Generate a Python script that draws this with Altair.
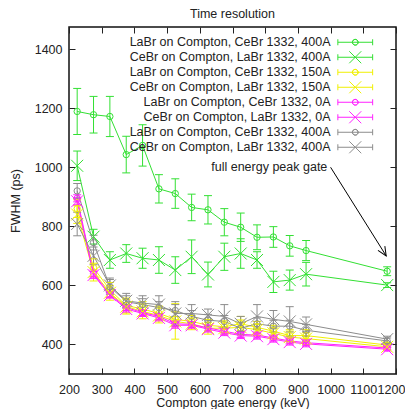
import json
import math
import altair as alt
import pandas as pd

FONT = "Liberation Sans"
TXT = "#222222"

energy = [225, 275, 325, 375, 425, 475, 525, 575, 625, 675, 725, 775, 825, 875, 925, 1173]

labels = [
    "LaBr on Compton, CeBr 1332, 400A",
    "CeBr on Compton, LaBr 1332, 400A",
    "LaBr on Compton, CeBr 1332, 150A",
    "CeBr on Compton, LaBr 1332, 150A",
    "LaBr on Compton, CeBr 1332, 0A",
    "CeBr on Compton, LaBr 1332, 0A",
    "LaBr on Compton, CeBr 1332, 400A",
    "CeBr on Compton, LaBr 1332, 400A",
]
keys = ["s0", "s1", "s2", "s3", "s4", "s5", "s6", "s7"]
colors = ["#33e033", "#33e033", "#f0f000", "#f0f000", "#ff22ff", "#ff22ff", "#8c8c8c", "#8c8c8c"]
markers = ["o", "x", "o", "x", "o", "x", "o", "x"]

labr_400_green = [1189, 1178, 1172, 1043, 1074, 927, 911, 864, 856, 814, 797, 763, 764, 734, 718, 648]
labr_400_green_err = [78, 62, 68, 62, 70, 48, 50, 45, 48, 46, 48, 42, 35, 35, 34, 15]
cebr_400_green = [1005, 765, 686, 708, 692, 686, 652, 697, 637, 697, 708, 686, 612, 618, 638, 601]
cebr_400_green_err = [50, 25, 28, 30, 34, 45, 45, 57, 42, 46, 50, 28, 36, 34, 40, 8]
labr_150 = [860, 660, 585, 532, 520, 505, 485, 478, 465, 460, 470, 458, 445, 430, 430, 398]
labr_150_err = [30, 30, 25, 25, 25, 25, 25, 20, 20, 20, 25, 20, 20, 20, 20, 8]
cebr_150 = [840, 645, 575, 528, 512, 498, 478, 470, 455, 455, 458, 450, 438, 425, 420, 392]
cebr_150_err = [30, 30, 25, 25, 25, 25, 60, 20, 20, 20, 25, 20, 20, 20, 20, 8]
labr_0 = [895, 640, 570, 525, 508, 495, 470, 468, 456, 445, 434, 432, 422, 412, 406, 388]
labr_0_err = [12, 12, 10, 10, 10, 10, 10, 10, 10, 10, 10, 10, 10, 10, 10, 6]
cebr_0 = [885, 635, 567, 520, 505, 490, 465, 465, 452, 440, 430, 428, 418, 408, 402, 384]
cebr_0_err = [12, 12, 10, 10, 10, 10, 10, 10, 10, 10, 10, 10, 10, 10, 10, 6]
labr_400_gray = [920, 745, 595, 545, 535, 525, 515, 495, 482, 478, 455, 470, 462, 462, 448, 412]
labr_400_gray_err = [25, 25, 25, 20, 20, 20, 20, 20, 20, 20, 20, 20, 20, 20, 20, 10]
cebr_400_gray = [808, 700, 600, 548, 540, 535, 505, 505, 500, 495, 470, 495, 485, 478, 468, 418]
cebr_400_gray_err = [40, 30, 25, 25, 25, 30, 40, 30, 20, 40, 25, 40, 30, 50, 25, 10]

series_vals = [labr_400_green, cebr_400_green, labr_150, cebr_150, labr_0, cebr_0, labr_400_gray, cebr_400_gray]
series_errs = [labr_400_green_err, cebr_400_green_err, labr_150_err, cebr_150_err, labr_0_err, cebr_0_err,
               labr_400_gray_err, cebr_400_gray_err]

arrow_x = [1000, 1170]
arrow_y = [1000, 700]
note_x = [990]
note_y = [1000]
note_text = ["full energy peak gate"]

x_ticks = [200, 300, 400, 500, 600, 700, 800, 900, 1000, 1100, 1200]
y_ticks = [400, 600, 800, 1000, 1200, 1400]
x_domain = [200, 1200]
y_domain = [300, 1475]

W, H = 327, 347

rows = []
for k, vals, errs, m in zip(keys, series_vals, series_errs, markers):
    for e, v, d in zip(energy, vals, errs):
        rows.append({"series": k, "energy": e, "fwhm": v, "lo": v - d, "hi": v + d, "marker": m})
df = pd.DataFrame(rows)

XPATH = "M-1,-1L1,1M-1,1L1,-1"
# legend glyphs in units of 3 px (symbolSize 36): error bar with caps plus the marker
LEG_BAR = "M-5.8,0L5.8,0M-5.8,-1L-5.8,1M5.8,-1L5.8,1"
# open ring drawn as retraced half arcs so that it never gets filled
LEG_O = LEG_BAR + ("M0.95,0A0.95,0.95 0 0,0 -0.95,0A0.95,0.95 0 0,1 0.95,0"
                   "M0.95,0A0.95,0.95 0 0,1 -0.95,0A0.95,0.95 0 0,0 0.95,0")
LEG_X = LEG_BAR + "M-2,-2L2,2M-2,2L2,-2"
legend_paths = [LEG_O if m == "o" else LEG_X for m in markers]

label_expr = "[" + ",".join(json.dumps(l) for l in labels) + "][indexof(" + json.dumps(keys) + ", datum.value)]"

xs = alt.Scale(domain=x_domain, nice=False, zero=False)
ys = alt.Scale(domain=y_domain, nice=False, zero=False)
cscale = alt.Scale(domain=keys, range=colors)
col = alt.Color("series:N", scale=cscale, legend=None)

ax_common = dict(offset=-6, tickSize=6, tickColor=TXT, tickWidth=1, domain=False, grid=False,
                 format="d", labelOverlap=False, labelFlush=False,
                 labelFont=FONT, labelFontSize=12.5, labelColor=TXT,
                 titleFont=FONT, titleFontSize=12.5, titleFontWeight="normal", titleColor=TXT)

x_bottom = alt.Axis(values=x_ticks, orient="bottom", labelPadding=9, title="Compton gate energy (keV)",
                    titlePadding=1,
                    labelOffset={"condition": {"test": "datum.value == 1200", "value": -5}, "value": 0},
                    **ax_common)
x_top = alt.Axis(values=x_ticks, orient="top", labels=False, title=None, **ax_common)
y_left = alt.Axis(values=y_ticks, orient="left", labelPadding=7, title="FWHM (ps)", titlePadding=12, **ax_common)
y_right = alt.Axis(values=y_ticks, orient="right", labels=False, title=None, **ax_common)

base = alt.Chart(df)

leg = alt.Legend(title=None, labelExpr=label_expr, symbolFillColor="transparent")
legend_layer = base.transform_filter("false").mark_point(filled=False, strokeWidth=1, opacity=1).encode(
    x=alt.X("energy:Q", scale=xs, axis=None),
    y=alt.Y("fwhm:Q", scale=ys, axis=None),
    color=alt.Color("series:N", scale=cscale, legend=leg),
    shape=alt.Shape("series:N", scale=alt.Scale(domain=keys, range=legend_paths), legend=leg),
)

lines = base.mark_line(strokeWidth=1).encode(
    x=alt.X("energy:Q", scale=xs, axis=x_bottom),
    y=alt.Y("fwhm:Q", scale=ys, axis=y_left),
    color=col,
    order="energy:Q",
)

bars = base.mark_rule(strokeWidth=1).encode(
    x=alt.X("energy:Q", scale=xs, axis=None),
    y=alt.Y("lo:Q", scale=ys, axis=None),
    y2="hi:Q",
    color=col,
)

caps = base.transform_fold(["lo", "hi"], as_=["end", "val"]).mark_tick(
    orient="horizontal", size=8, thickness=1, opacity=1
).encode(
    x=alt.X("energy:Q", scale=xs, axis=None),
    y=alt.Y("val:Q", scale=ys, axis=None),
    color=col,
)

circles = base.transform_filter(alt.datum.marker == "o").mark_point(
    shape="circle", size=40, filled=False, strokeWidth=1, opacity=1
).encode(
    x=alt.X("energy:Q", scale=xs, axis=x_top),
    y=alt.Y("fwhm:Q", scale=ys, axis=y_right),
    color=col,
)

crosses = base.transform_filter(alt.datum.marker == "x").mark_point(
    shape=XPATH, size=144, filled=False, strokeWidth=1, opacity=1
).encode(
    x=alt.X("energy:Q", scale=xs, axis=None),
    y=alt.Y("fwhm:Q", scale=ys, axis=None),
    color=col,
)

arrow_df = pd.DataFrame({"ax": arrow_x, "ay": arrow_y})
arrow_line = alt.Chart(arrow_df).mark_line(color="black", strokeWidth=1).encode(
    x=alt.X("ax:Q", scale=xs, axis=None),
    y=alt.Y("ay:Q", scale=ys, axis=None),
)
dxp = (arrow_x[1] - arrow_x[0]) * W / (x_domain[1] - x_domain[0])
dyp = (arrow_y[0] - arrow_y[1]) * H / (y_domain[1] - y_domain[0])
theta = (math.degrees(math.atan2(-dxp, dyp)) + 360) % 360
head_df = pd.DataFrame({"ax": arrow_x[-1:], "ay": arrow_y[-1:]})
arrow_head = alt.Chart(head_df).mark_point(
    shape="M-0.45,-1L0,0L0.45,-1", size=324, filled=False, stroke="black", strokeWidth=1, opacity=1,
    angle=theta,
).encode(
    x=alt.X("ax:Q", scale=xs, axis=None),
    y=alt.Y("ay:Q", scale=ys, axis=None),
)

note_df = pd.DataFrame({"nx": note_x, "ny": note_y, "t": note_text})
note = alt.Chart(note_df).mark_text(align="right", baseline="middle", font=FONT, fontSize=12.5, color=TXT).encode(
    x=alt.X("nx:Q", scale=xs, axis=None),
    y=alt.Y("ny:Q", scale=ys, axis=None),
    text="t:N",
)

chart = alt.layer(
    legend_layer, lines, bars, caps, circles, crosses, arrow_line, arrow_head, note
).resolve_axis(
    x="independent", y="independent"
).properties(
    width=W, height=H,
    title=alt.TitleParams("Time resolution", font=FONT, fontSize=12.5, fontWeight="normal", color=TXT, offset=6),
    autosize=alt.AutoSizeParams(type="none"),
    padding={"left": 61, "top": 19, "right": 9, "bottom": 35},
).configure_view(
    stroke="#111111", strokeWidth=1.5
).configure_legend(
    orient="none", legendX=280, legendY=9, padding=0, rowPadding=0,
    labelAlign="right", labelOffset={"expr": "-31"}, symbolOffset=0, symbolSize=36, symbolStrokeWidth=1,
    symbolFillColor="transparent",
    labelFont=FONT, labelFontSize=12.5, labelColor=TXT, labelLimit=400,
)

chart.save("out.html", embed_options={"renderer": "svg", "actions": False})
